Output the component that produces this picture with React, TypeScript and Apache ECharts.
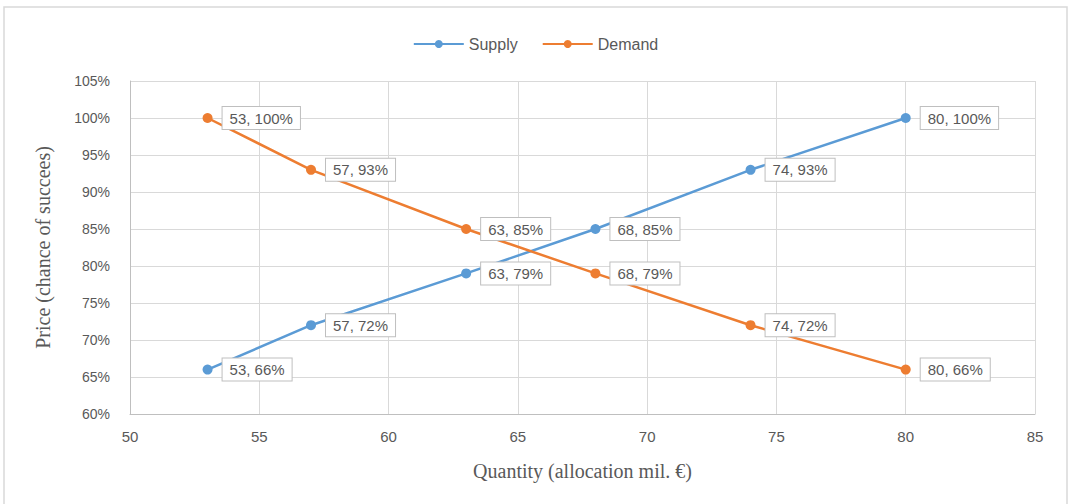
import React, { useEffect, useRef } from "react";
import * as echarts from "echarts";

// Quantity (allocation, million €) and price (chance of success, %)
const supplyQuantity = [53, 57, 63, 68, 74, 80];
const supplyPrice = [66, 72, 79, 85, 93, 100];
const demandQuantity = [53, 57, 63, 68, 74, 80];
const demandPrice = [100, 93, 85, 79, 72, 66];

const seriesNames = ["Supply", "Demand"];
const colors = ["#5B9BD5", "#ED7D31"];

const xTitle = "Quantity (allocation mil. €)";
const yTitle = "Price (chance of succees)";

const pairs = (xs: number[], ys: number[]) => xs.map((x, i) => [x, ys[i]]);

const sans = "Liberation Sans, Arial, sans-serif";
const serif = "Liberation Serif, Times New Roman, serif";

export default function App() {
  const ref = useRef<HTMLDivElement>(null);

  useEffect(() => {
    if (!ref.current) return;
    const chart = echarts.init(ref.current, null, { renderer: "svg" });

    const labelStyle = {
      show: true,
      position: "right",
      distance: 10,
      formatter: (p: any) => `${p.value[0]}, ${p.value[1]}%`,
      color: "#595959",
      fontSize: 15,
      fontFamily: sans,
      backgroundColor: "#ffffff",
      borderColor: "#bfbfbf",
      borderWidth: 1,
      padding: [4, 7, 3, 7],
    };

    const makeSeries = (name: string, color: string, data: number[][]) => ({
      name,
      type: "line",
      data,
      symbol: "circle",
      symbolSize: 10,
      lineStyle: { color, width: 2.5 },
      itemStyle: { color },
      label: labelStyle,
      z: 3,
    });

    chart.setOption({
      animation: false,
      color: colors,
      graphic: [
        {
          type: "rect",
          shape: { x: 4, y: 7, width: 1063, height: 500 },
          style: { fill: "none", stroke: "#d9d9d9", lineWidth: 1.5 },
          silent: true,
        },
      ],
      legend: {
        top: 31,
        left: "center",
        itemWidth: 50,
        itemHeight: 10,
        itemGap: 24,
        textStyle: { color: "#595959", fontSize: 16, fontFamily: sans },
        data: seriesNames,
      },
      grid: { left: 130, right: 36, top: 81, bottom: 90 },
      xAxis: {
        type: "value",
        min: 50,
        max: 85,
        interval: 5,
        name: xTitle,
        nameLocation: "middle",
        nameGap: 47,
        nameTextStyle: { color: "#595959", fontSize: 20, fontFamily: serif },
        axisLine: { show: true, lineStyle: { color: "#bfbfbf" } },
        axisTick: { show: false },
        axisLabel: { color: "#595959", fontSize: 15, margin: 15, fontFamily: sans },
        splitLine: { show: true, lineStyle: { color: "#d9d9d9" } },
      },
      yAxis: {
        type: "value",
        min: 60,
        max: 105,
        interval: 5,
        name: yTitle,
        nameLocation: "middle",
        nameGap: 77,
        nameTextStyle: { color: "#595959", fontSize: 20, fontFamily: serif },
        axisLine: { show: true, lineStyle: { color: "#bfbfbf" } },
        axisTick: { show: false },
        axisLabel: {
          color: "#595959",
          fontSize: 14,
          margin: 20,
          formatter: "{value}%",
          fontFamily: sans,
        },
        splitLine: { show: true, lineStyle: { color: "#d9d9d9" } },
      },
      series: [
        makeSeries(seriesNames[0], colors[0], pairs(supplyQuantity, supplyPrice)),
        makeSeries(seriesNames[1], colors[1], pairs(demandQuantity, demandPrice)),
      ],
    });

    return () => chart.dispose();
  }, []);

  return (
    <div
      ref={ref}
      style={{ position: "fixed", left: 0, top: 0, width: 1071, height: 504, background: "#fff" }}
    />
  );
}
